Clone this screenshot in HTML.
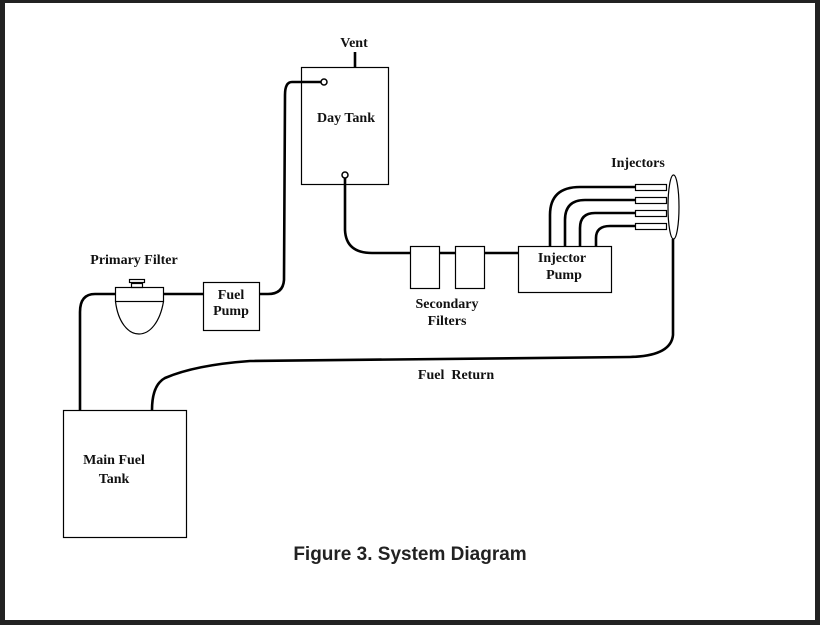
<!DOCTYPE html>
<html><head><style>
html,body{margin:0;padding:0;background:#fff}
svg{display:block}
text{font-family:"Liberation Serif",serif;font-weight:bold;font-size:14px;fill:#111}
</style></head><body>
<svg width="820" height="625" viewBox="0 0 820 625" xmlns="http://www.w3.org/2000/svg">
<rect x="0" y="0" width="820" height="625" fill="#222"/>
<rect x="5" y="3" width="810" height="617" fill="#fff"/>
<g fill="none" stroke="#000" stroke-width="1.2">
<rect x="301.5" y="67.5" width="87" height="117"/>
<rect x="410.5" y="246.5" width="29" height="42"/>
<rect x="455.5" y="246.5" width="29" height="42"/>
<rect x="518.5" y="246.5" width="93" height="46"/>
<rect x="203.5" y="282.5" width="56" height="48"/>
<rect x="63.5" y="410.5" width="123" height="127"/>
<rect x="635.5" y="184.5" width="31" height="6"/>
<rect x="635.5" y="197.5" width="31" height="6"/>
<rect x="635.5" y="210.5" width="31" height="6"/>
<rect x="635.5" y="223.5" width="31" height="6"/>
<ellipse cx="673.5" cy="207" rx="5.5" ry="32"/>
<rect x="115.5" y="287.5" width="48" height="14"/>
<path d="M115.5,301.5 C118,322 128,334 139,334 C150,334 160,322 163.5,301.5"/>
<rect x="131.5" y="283.5" width="11" height="4"/>
<rect x="129.5" y="279.5" width="15" height="3"/>
</g>
<g fill="none" stroke="#000" stroke-width="2.6">
<path d="M355,52 V67"/>
<path d="M321,82 H292 Q285,82 285,95 L284,280 Q283,294 268,294 H260"/>
<path d="M345,178 V230 Q346,253 372,253 H410"/>
<path d="M439,253 H455 M484,253 H518"/>
<path d="M163,294 H203"/>
<path d="M115,294 H95 Q80,294 80,312 V410"/>
<path d="M673,239 V335 Q671,356 630,357 L250,361 Q195,365 165,378 Q152,385 152,410"/>
<path d="M550,246 V215 Q550,187 580,187 H635"/>
<path d="M565,246 V220 Q565,200 585,200 H635"/>
<path d="M580,246 V228 Q580,213 595,213 H635"/>
<path d="M596,246 V238 Q596,226 610,226 H635"/>
</g>
<g fill="#fff" stroke="#000" stroke-width="1.5">
<circle cx="324" cy="82" r="3"/>
<circle cx="345" cy="175" r="3"/>
</g>
<text x="354" y="47" text-anchor="middle">Vent</text>
<text x="346" y="122" text-anchor="middle">Day Tank</text>
<text x="134" y="264" text-anchor="middle">Primary Filter</text>
<text x="231" y="299" text-anchor="middle">Fuel</text>
<text x="231" y="315" text-anchor="middle">Pump</text>
<text x="447" y="308" text-anchor="middle">Secondary</text>
<text x="447" y="325" text-anchor="middle">Filters</text>
<text x="562" y="262" text-anchor="middle">Injector</text>
<text x="564" y="279" text-anchor="middle">Pump</text>
<text x="638" y="167" text-anchor="middle">Injectors</text>
<text x="456" y="379" text-anchor="middle" xml:space="preserve">Fuel  Return</text>
<text x="114" y="464" text-anchor="middle">Main Fuel</text>
<text x="114" y="483" text-anchor="middle">Tank</text>
<text x="410" y="560" text-anchor="middle" style="font-family:'Liberation Sans',sans-serif;font-size:19px;fill:#222">Figure 3. System Diagram</text>
</svg>
</body></html>
